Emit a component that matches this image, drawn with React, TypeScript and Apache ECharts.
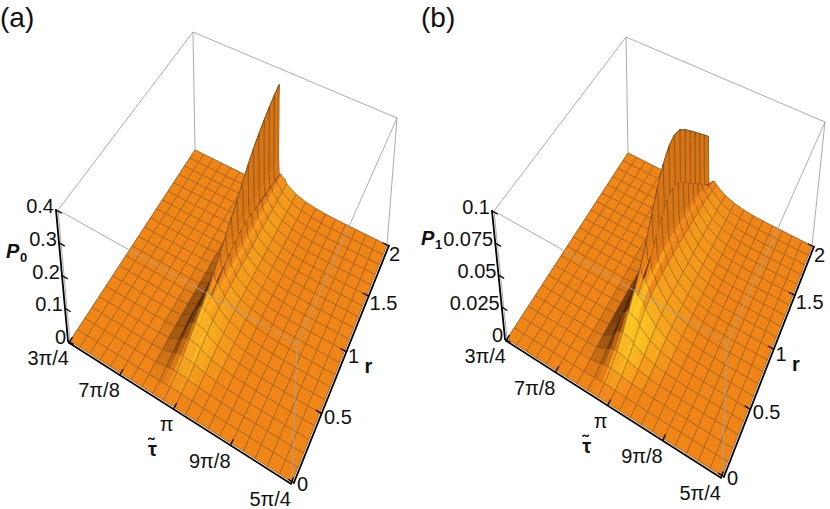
import React, { useEffect, useRef } from 'react';
import * as echarts from 'echarts';

// ---------------- data ----------------
// tau grid in units of pi
const tauGrid = [0.75, 0.775, 0.8, 0.825, 0.85, 0.875, 0.9, 0.925, 0.95, 0.96, 0.97, 0.975, 0.9775, 0.98, 0.985, 0.9875, 0.99, 0.995, 1.0, 1.0125, 1.025, 1.05, 1.075, 1.1, 1.125, 1.15, 1.175, 1.2, 1.225, 1.25];
const rGrid = [0, 0.1, 0.2, 0.3, 0.4, 0.5, 0.6, 0.7, 0.8, 0.9, 1.0, 1.1, 1.2, 1.3, 1.4, 1.5, 1.6, 1.7, 1.8, 1.9, 2.0];

const tauTickValues = [0.75, 0.875, 1, 1.125, 1.25];
const tauTickLabels = ['3π/4', '7π/8', 'π', '9π/8', '5π/4'];
const rTickValues = [0, 0.5, 1, 1.5, 2];
const rTickLabels = ['0', '0.5', '1', '1.5', '2'];
const p0TickValues = [0, 0.1, 0.2, 0.3, 0.4];
const p0TickLabels = ['0', '0.1', '0.2', '0.3', '0.4'];
const p1TickValues = [0, 0.025, 0.05, 0.075, 0.1];
const p1TickLabels = ['0', '0.025', '0.05', '0.075', '0.1'];

// P0(tau, r): one row per r in rGrid, one column per tau in tauGrid
const p0Values = [
  [0,0,0,0,0,0,0, 0,0,0,0,0,0,0,0,0,0,0, 0,0,0,0,0,0,0,0,0, 0,0,0],
  [0,0,0,0,0,0,0, 0,0.001,0.002,0.0025,0.0025,0.0025,0.0025,0.0024,0.0024,0.0023,0.0022, 0.0018,0.0013,0.0009,0.0004,0.0001,0,0,0,0, 0,0,0],
  [0,0,0,0,0,0,0, 0.001,0.006,0.009,0.01,0.01,0.0098,0.0096,0.0093,0.0091,0.009,0.0086, 0.007,0.0055,0.004,0.002,0.0008,0.0003,0,0,0, 0,0,0],
  [0,0,0,0,0,0,0, 0.002,0.012,0.019,0.022,0.022,0.0215,0.021,0.0205,0.02,0.0195,0.019, 0.0155,0.012,0.0085,0.004,0.0017,0.0006,0.0002,0,0, 0,0,0],
  [0,0,0,0,0,0,0, 0.003,0.018,0.03,0.036,0.037,0.036,0.035,0.034,0.0335,0.033,0.032, 0.026,0.02,0.014,0.007,0.003,0.0012,0.0004,0.0001,0, 0,0,0],
  [0,0,0,0,0,0,0, 0.004,0.022,0.04,0.05,0.052,0.05,0.049,0.048,0.047,0.046,0.044, 0.036,0.027,0.019,0.0095,0.0045,0.0018,0.0006,0.0002,0, 0,0,0],
  [0,0,0,0,0,0,0, 0.004,0.024,0.048,0.064,0.068,0.064,0.061,0.06,0.058,0.056,0.053, 0.043,0.032,0.023,0.012,0.0058,0.0024,0.0008,0.0003,0, 0,0,0],
  [0,0,0,0,0,0,0, 0.004,0.024,0.052,0.076,0.085,0.076,0.07,0.07,0.064,0.061,0.058, 0.046,0.034,0.024,0.013,0.0063,0.0026,0.0009,0.0003,0, 0,0,0],
  [0,0,0,0,0,0,0, 0.003,0.022,0.052,0.085,0.105,0.085,0.076,0.082,0.07,0.064,0.061, 0.048,0.035,0.025,0.013,0.0065,0.0027,0.0009,0.0003,0, 0,0,0],
  [0,0,0,0,0,0,0, 0.003,0.02,0.05,0.092,0.128,0.096,0.082,0.094,0.074,0.066,0.062, 0.048,0.035,0.024,0.013,0.0064,0.0026,0.0009,0.0003,0, 0,0,0],
  [0,0,0,0,0,0,0, 0.002,0.018,0.047,0.098,0.152,0.105,0.088,0.104,0.077,0.067,0.062, 0.047,0.034,0.024,0.0125,0.006,0.0025,0.0008,0.0003,0, 0,0,0],
  [0,0,0,0,0,0,0, 0.002,0.016,0.044,0.104,0.177,0.112,0.092,0.11,0.078,0.067,0.061, 0.046,0.033,0.023,0.012,0.0058,0.0024,0.0008,0.0002,0, 0,0,0],
  [0,0,0,0,0,0,0, 0.002,0.014,0.041,0.108,0.2,0.117,0.094,0.114,0.078,0.066,0.06, 0.045,0.033,0.022,0.012,0.0056,0.0023,0.0008,0.0002,0, 0,0,0],
  [0,0,0,0,0,0,0, 0.001,0.012,0.038,0.112,0.228,0.12,0.093,0.112,0.076,0.065,0.059, 0.044,0.032,0.022,0.0115,0.0054,0.0022,0.0007,0.0002,0, 0,0,0],
  [0,0,0,0,0,0,0, 0.001,0.011,0.035,0.115,0.254,0.121,0.09,0.106,0.073,0.063,0.057, 0.043,0.031,0.021,0.011,0.0052,0.0021,0.0007,0.0002,0, 0,0,0],
  [0,0,0,0,0,0,0, 0.001,0.01,0.032,0.117,0.276,0.12,0.085,0.097,0.069,0.061,0.056, 0.042,0.03,0.021,0.011,0.005,0.002,0.0007,0.0002,0, 0,0,0],
  [0,0,0,0,0,0,0, 0.001,0.009,0.03,0.118,0.295,0.118,0.08,0.088,0.066,0.059,0.054, 0.041,0.03,0.02,0.0105,0.0048,0.0019,0.0006,0.0002,0, 0,0,0],
  [0,0,0,0,0,0,0, 0.001,0.008,0.028,0.119,0.311,0.116,0.075,0.08,0.062,0.057,0.053, 0.04,0.029,0.02,0.01,0.0046,0.0018,0.0006,0.0002,0, 0,0,0],
  [0,0,0,0,0,0,0, 0.001,0.007,0.026,0.12,0.325,0.113,0.07,0.072,0.059,0.055,0.052, 0.039,0.028,0.019,0.0098,0.0044,0.0018,0.0006,0.0002,0, 0,0,0],
  [0,0,0,0,0,0,0, 0.001,0.007,0.025,0.12,0.337,0.11,0.062,0.066,0.056,0.053,0.051, 0.038,0.028,0.019,0.0095,0.0043,0.0017,0.0006,0.0002,0, 0,0,0],
  [0,0,0,0,0,0,0, 0.001,0.006,0.024,0.12,0.347,0.107,0.055,0.06,0.053,0.051,0.05, 0.037,0.027,0.018,0.0092,0.0042,0.0017,0.0005,0.0002,0, 0,0,0],
];

// P1(tau, r)
const p1Values = [
  [0,0,0,0,0,0,0, 0,0,0,0,0,0,0,0,0,0,0, 0,0,0,0,0,0,0,0,0, 0,0,0],
  [0,0,0,0,0,0,0, 0,0.0003,0.0006,0.0008,0.0008,0.0008,0.0008,0.0008,0.0008,0.0007,0.0007, 0.0005,0.0004,0.0003,0.0001,0,0,0,0,0, 0,0,0],
  [0,0,0,0,0,0,0, 0.0003,0.0018,0.0028,0.0032,0.0032,0.0031,0.003,0.003,0.0029,0.0028,0.0027, 0.0021,0.0016,0.0011,0.0005,0.0002,0.0001,0,0,0, 0,0,0],
  [0,0,0,0,0,0,0, 0.0006,0.004,0.0062,0.0072,0.0072,0.007,0.0069,0.0067,0.0066,0.0064,0.0061, 0.005,0.0038,0.0027,0.0013,0.0005,0.0002,0,0,0, 0,0,0],
  [0,0,0,0,0,0,0, 0.001,0.0065,0.011,0.0128,0.013,0.0126,0.0123,0.012,0.0118,0.0115,0.011, 0.009,0.0068,0.0047,0.0023,0.001,0.0004,0.0001,0,0, 0,0,0],
  [0,0,0,0,0,0,0, 0.0012,0.0085,0.016,0.02,0.021,0.02,0.0195,0.019,0.0186,0.018,0.0172, 0.014,0.0105,0.0073,0.0036,0.0017,0.0007,0.0002,0.0001,0, 0,0,0],
  [0,0,0,0,0,0,0, 0.0012,0.009,0.019,0.026,0.029,0.027,0.026,0.0255,0.025,0.024,0.0228, 0.0185,0.0138,0.0096,0.0048,0.0022,0.0009,0.0003,0.0001,0, 0,0,0],
  [0,0,0,0,0,0,0, 0.001,0.009,0.021,0.032,0.038,0.033,0.03,0.031,0.028,0.027,0.0255, 0.0205,0.0152,0.0105,0.0053,0.0025,0.001,0.0003,0.0001,0, 0,0,0],
  [0,0,0,0,0,0,0, 0.001,0.008,0.021,0.036,0.05,0.039,0.034,0.038,0.031,0.028,0.0265, 0.0213,0.0158,0.011,0.0055,0.0026,0.0011,0.0004,0.0001,0, 0,0,0],
  [0,0,0,0,0,0,0, 0.001,0.007,0.02,0.039,0.064,0.045,0.038,0.047,0.034,0.029,0.027, 0.0214,0.0158,0.011,0.0055,0.0026,0.0011,0.0004,0.0001,0, 0,0,0],
  [0,0,0,0,0,0,0, 0.0008,0.006,0.019,0.041,0.077,0.05,0.041,0.055,0.036,0.03,0.027, 0.0212,0.0155,0.0107,0.0054,0.0025,0.001,0.0003,0.0001,0, 0,0,0],
  [0,0,0,0,0,0,0, 0.0007,0.0055,0.018,0.043,0.088,0.054,0.043,0.061,0.037,0.03,0.0265, 0.0208,0.0152,0.0104,0.0052,0.0024,0.001,0.0003,0.0001,0, 0,0,0],
  [0,0,0,0,0,0,0, 0.0006,0.005,0.017,0.044,0.095,0.056,0.043,0.063,0.037,0.029,0.026, 0.0204,0.0148,0.0101,0.005,0.0023,0.0009,0.0003,0.0001,0, 0,0,0],
  [0,0,0,0,0,0,0, 0.0005,0.0045,0.016,0.044,0.097,0.056,0.041,0.06,0.035,0.028,0.025, 0.0196,0.0143,0.0097,0.0048,0.0022,0.0009,0.0003,0.0001,0, 0,0,0],
  [0,0,0,0,0,0,0, 0.0005,0.004,0.015,0.043,0.094,0.054,0.037,0.053,0.032,0.026,0.0235, 0.0185,0.0135,0.0092,0.0046,0.0021,0.0009,0.0003,0.0001,0, 0,0,0],
  [0,0,0,0,0,0,0, 0.0004,0.0037,0.014,0.041,0.087,0.05,0.032,0.045,0.028,0.024,0.022, 0.0175,0.0127,0.0087,0.0043,0.002,0.0008,0.0003,0.0001,0, 0,0,0],
  [0,0,0,0,0,0,0, 0.0004,0.0034,0.013,0.038,0.079,0.045,0.027,0.037,0.025,0.022,0.0205, 0.0163,0.012,0.0082,0.0041,0.0019,0.0008,0.0003,0.0001,0, 0,0,0],
  [0,0,0,0,0,0,0, 0.0004,0.003,0.012,0.035,0.071,0.04,0.022,0.03,0.021,0.02,0.019, 0.0153,0.0112,0.0077,0.0038,0.0018,0.0007,0.0002,0.0001,0, 0,0,0],
  [0,0,0,0,0,0,0, 0.0003,0.0028,0.011,0.032,0.063,0.035,0.018,0.022,0.018,0.0175,0.0172, 0.014,0.0103,0.0071,0.0035,0.0016,0.0007,0.0002,0.0001,0, 0,0,0],
  [0,0,0,0,0,0,0, 0.0003,0.0025,0.01,0.029,0.055,0.03,0.013,0.015,0.0145,0.0148,0.015, 0.0126,0.0094,0.0065,0.0032,0.0015,0.0006,0.0002,0.0001,0, 0,0,0],
  [0,0,0,0,0,0,0, 0.0003,0.0022,0.009,0.025,0.047,0.023,0.008,0.0095,0.011,0.012,0.0125, 0.0106,0.0079,0.0055,0.0027,0.0013,0.0005,0.0002,0.0001,0, 0,0,0],
];

// ---------------- layout / styling ----------------
const FONT = '"Liberation Sans", Arial, Helvetica, sans-serif';
const TICK_FONT = '20px ' + FONT;

type Pt = number[];

function makeHomography(q: Pt[]) {
  const [p0, p1, p2, p3] = q; // (0,0) (1,0) (1,1) (0,1)
  const dx1 = p1[0] - p2[0], dx2 = p3[0] - p2[0], dx3 = p0[0] - p1[0] + p2[0] - p3[0];
  const dy1 = p1[1] - p2[1], dy2 = p3[1] - p2[1], dy3 = p0[1] - p1[1] + p2[1] - p3[1];
  const den = dx1 * dy2 - dx2 * dy1;
  const g = (dx3 * dy2 - dx2 * dy3) / den;
  const h = (dx1 * dy3 - dx3 * dy1) / den;
  const a = p1[0] - p0[0] + g * p1[0], b = p3[0] - p0[0] + h * p3[0], c = p0[0];
  const d = p1[1] - p0[1] + g * p1[1], e = p3[1] - p0[1] + h * p3[1], f = p0[1];
  return (u: number, v: number): Pt => {
    const w = g * u + h * v + 1;
    return [(a * u + b * v + c) / w, (d * u + e * v + f) / w];
  };
}

const panels = [
  {
    floor: [[70, 341], [292, 482], [387, 245], [195, 150]],
    top: [[58, 210], [297, 344], [397, 118], [193, 32]],
    zMax: 0.4, values: p0Values, zTicks: p0TickValues, zLabels: p0TickLabels,
    tag: '(a)', tagPos: [0, 17], sub: '0', namePos: [6, 251],
  },
  {
    floor: [[507, 339], [722, 476], [812, 246], [628, 153]],
    top: [[494, 211], [727, 343], [825, 122], [626, 37]],
    zMax: 0.1, values: p1Values, zTicks: p1TickValues, zLabels: p1TickLabels,
    tag: '(b)', tagPos: [421, 17], sub: '1', namePos: [421, 238],
  },
];

const ORANGE = [240, 133, 24];
const YELLOW = [255, 214, 36];
const DARK = [80, 36, 4];
const LIGHT = (() => { const l = [0.45, -0.55, 0.7]; const n = Math.hypot(l[0], l[1], l[2]); return l.map((x) => x / n); })();

function mix(a: number[], b: number[], t: number) {
  return [a[0] + (b[0] - a[0]) * t, a[1] + (b[1] - a[1]) * t, a[2] + (b[2] - a[2]) * t];
}
function rgb(c: number[]) {
  return 'rgb(' + Math.round(c[0]) + ',' + Math.round(c[1]) + ',' + Math.round(c[2]) + ')';
}
function clamp01(x: number) { return Math.max(0, Math.min(1, x)); }
function shade(nx: number, ny: number, nz: number) {
  const len = Math.hypot(nx, ny, nz);
  nx /= len; ny /= len; nz /= len;
  if (nx < -0.02) return mix(ORANGE, DARK, clamp01(-nx * 1.4));
  const b = nx * LIGHT[0] + ny * LIGHT[1] + nz * LIGHT[2];
  const b0 = LIGHT[2];
  if (b >= b0) return mix(ORANGE, YELLOW, clamp01((b - b0 - 0.03) / (1 - b0)));
  return mix(ORANGE, DARK, clamp01(((b0 - b) / (b0 + 0.05)) * 0.55));
}
function isMeshTau(t: number) {
  return Math.abs(t * 40 - Math.round(t * 40)) < 1e-6;
}

function buildSeries(panel: any) {
  const fl = makeHomography(panel.floor);
  const tp = makeHomography(panel.top);
  const boxPt = (u: number, v: number, w: number): Pt => {
    const a = fl(u, v), b = tp(u, v);
    return [a[0] + (b[0] - a[0]) * w, a[1] + (b[1] - a[1]) * w];
  };
  const toU = (t: number) => (t - 0.75) / 0.5;
  const toV = (r: number) => r / 2;
  const dataPt = (t: number, r: number, z: number) =>
    boxPt(toU(t), toV(r), Math.min(z, panel.zMax) / panel.zMax);
  const vals: number[][] = panel.values;
  const zv = (j: number, i: number) => (vals[j] && vals[j][i]) || 0;

  // cells sorted far -> near (painter's order)
  const cells: { i: number; j: number; d: number }[] = [];
  for (let j = 0; j < rGrid.length - 1; j++) {
    for (let i = 0; i < tauGrid.length - 1; i++) {
      const c = fl(toU((tauGrid[i] + tauGrid[i + 1]) / 2), toV((rGrid[j] + rGrid[j + 1]) / 2));
      cells.push({ i, j, d: c[1] });
    }
  }
  cells.sort((a, b) => a.d - b.d);

  const surface = {
    type: 'custom', coordinateSystem: 'cartesian2d', clip: false, silent: true, z: 2,
    data: cells.map((c) => [c.i, c.j]),
    renderItem: (params: any, api: any) => {
      const i = api.value(0) as number, j = api.value(1) as number;
      const t0 = tauGrid[i], t1 = tauGrid[i + 1], r0 = rGrid[j], r1 = rGrid[j + 1];
      const z00 = zv(j, i), z10 = zv(j, i + 1), z01 = zv(j + 1, i), z11 = zv(j + 1, i + 1);
      const c = (t: number, r: number, z: number) => api.coord(dataPt(t, r, z));
      const p00 = c(t0, r0, z00), p10 = c(t1, r0, z10), p11 = c(t1, r1, z11), p01 = c(t0, r1, z01);
      const du = toU(t1) - toU(t0), dv = toV(r1) - toV(r0);
      const k = 0.4 / panel.zMax;
      const zc = (z: number) => Math.min(z, panel.zMax);
      const gx = (k * ((zc(z10) - zc(z00)) + (zc(z11) - zc(z01)))) / 2 / du;
      const gy = (k * ((zc(z01) - zc(z00)) + (zc(z11) - zc(z10)))) / 2 / dv;
      const col = shade(-gx, -gy, 1);
      const fill = rgb(col);
      const lc = rgb(mix(col, [55, 45, 40], 0.55));
      const seg = (a: Pt, b: Pt) => ({
        type: 'line', silent: true,
        shape: { x1: a[0], y1: a[1], x2: b[0], y2: b[1] },
        style: { stroke: lc, lineWidth: 0.6 },
      });
      const children: any[] = [
        { type: 'polygon', silent: true, shape: { points: [p00, p10, p11, p01] }, style: { fill, stroke: fill, lineWidth: 0.6 } },
        seg(p00, p10),
        seg(p01, p11),
      ];
      if (isMeshTau(t0)) children.push(seg(p00, p01));
      if (isMeshTau(t1)) children.push(seg(p10, p11));
      return { type: 'group', children };
    },
  };

  const grey = '#a3a3a3';
  const edge = (api: any, a: number[], b: number[], stroke = grey, lw = 0.9) => {
    const p = api.coord(boxPt(a[0], a[1], a[2]));
    const q = api.coord(boxPt(b[0], b[1], b[2]));
    return { type: 'line', silent: true, shape: { x1: p[0], y1: p[1], x2: q[0], y2: q[1] }, style: { stroke, lineWidth: lw } };
  };

  const back = {
    type: 'custom', coordinateSystem: 'cartesian2d', clip: false, silent: true, z: 1,
    data: [[0, 0]],
    renderItem: (params: any, api: any) => ({
      type: 'group',
      children: [
        edge(api, [0, 1, 1], [0, 1, 0]),
        edge(api, [0, 1, 0], [0, 0, 0]),
        edge(api, [0, 1, 0], [1, 1, 0]),
        edge(api, [0, 1, 1], [0, 0, 1]),
        edge(api, [0, 1, 1], [1, 1, 1]),
        edge(api, [1, 1, 1], [1, 1, 0]),
      ],
    }),
  };

  const text = (x: number, y: number, s: string, align: string, vAlign: string, font: string) => ({
    type: 'text', silent: true,
    style: { x, y, text: s, fill: '#111', font, textAlign: align, textVerticalAlign: vAlign, align, verticalAlign: vAlign },
  });

  const front = {
    type: 'custom', coordinateSystem: 'cartesian2d', clip: false, silent: true, z: 3,
    data: [[0, 0]],
    renderItem: (params: any, api: any) => {
      const ch: any[] = [
        edge(api, [0, 0, 1], [1, 0, 1]),
        edge(api, [1, 0, 1], [1, 1, 1]),
        edge(api, [1, 0, 1], [1, 0, 0]),
        edge(api, [0, 0, 1], [0, 0, 0]),
      ];
      const P = (u: number, v: number, w: number) => api.coord(boxPt(u, v, w)) as Pt;
      const unit = (a: Pt, b: Pt) => { const dx = b[0] - a[0], dy = b[1] - a[1]; const n = Math.hypot(dx, dy) || 1; return [dx / n, dy / n]; };
      const line = (a: Pt, b: Pt, lw: number) => ({ type: 'line', silent: true, shape: { x1: a[0], y1: a[1], x2: b[0], y2: b[1] }, style: { stroke: '#000', lineWidth: lw, lineCap: 'square' } });
      const shift = (a: Pt, d: Pt, s: number): Pt => [a[0] + d[0] * s, a[1] + d[1] * s];

      // tau axis (front-left bottom edge)
      const tauOut = (() => { const d = unit(P(0, 0, 0), P(1, 0, 0)); return [d[1], -d[0]][1] > 0 ? [d[1], -d[0]] : [-d[1], d[0]]; })();
      ch.push(line(shift(P(0, 0, 0), tauOut, 2), shift(P(1, 0, 0), tauOut, 2), 1.8));
      tauTickValues.forEach((t, k) => {
        const u = toU(t);
        const a = shift(P(u, 0, 0), tauOut, 2);
        const dir = unit(P(u, 0, 0), P(u, 0.05, 0));
        ch.push(line(a, shift(a, dir, 6), 1.3));
        const b = P(u, 0, 0);
        ch.push(text(b[0] - 1, b[1] + 17, tauTickLabels[k], 'right', 'middle', TICK_FONT));
        if (t === 1) ch.push(text(b[0] - 22, b[1] + 42, 'τ\u0303', 'center', 'middle', 'bold 20px ' + FONT));
      });

      // r axis (front-right bottom edge)
      const rOut = (() => { const d = unit(P(1, 0, 0), P(1, 1, 0)); return [d[1], -d[0]][0] > 0 ? [d[1], -d[0]] : [-d[1], d[0]]; })();
      ch.push(line(shift(P(1, 0, 0), rOut, 2), shift(P(1, 1, 0), rOut, 2), 1.8));
      rTickValues.forEach((r, k) => {
        const v = toV(r);
        const a = shift(P(1, v, 0), rOut, 2);
        const dir = unit(P(1, v, 0), P(0.95, v, 0));
        ch.push(line(a, shift(a, dir, 6), 1.3));
        const b = P(1, v, 0);
        ch.push(text(b[0] + 5 - 3 * v, b[1] + 2 + 7 * v, rTickLabels[k], 'left', 'middle', TICK_FONT));
        if (r === 1) ch.push(text(b[0] + 24, b[1] + 15, 'r', 'center', 'middle', 'bold 20px ' + FONT));
      });

      // z axis (left vertical edge)
      const zOut = [-1, 0];
      ch.push(line(shift(P(0, 0, 0), zOut, 2), shift(P(0, 0, 1), zOut, 2), 1.8));
      (panel.zTicks as number[]).forEach((z, k) => {
        const w = z / panel.zMax;
        const a = shift(P(0, 0, w), zOut, 2);
        const dir = unit(P(0, 0, w), P(0.05, 0, w));
        ch.push(line(a, shift(a, dir, 6), 1.3));
        const b = P(0, 0, w);
        ch.push(text(b[0] - 4, b[1] - 4, panel.zLabels[k], 'right', 'middle', TICK_FONT));
      });

      ch.push(text(panel.namePos[0], panel.namePos[1], 'P', 'left', 'middle', 'italic bold 20px ' + FONT));
      ch.push(text(panel.namePos[0] + 14, panel.namePos[1] + 6, panel.sub, 'left', 'middle', 'bold 13px ' + FONT));
      ch.push(text(panel.tagPos[0], panel.tagPos[1], panel.tag, 'left', 'middle', '28px ' + FONT));
      return { type: 'group', children: ch };
    },
  };

  return [back, surface, front];
}

export default function App() {
  const ref = useRef<HTMLDivElement>(null);
  useEffect(() => {
    document.body.style.margin = '0';
    if (!ref.current) return;
    const chart = echarts.init(ref.current, undefined, { renderer: 'svg' });
    const series: any[] = [];
    panels.forEach((p) => series.push(...buildSeries(p)));
    chart.setOption({
      animation: false,
      grid: { left: 0, right: 0, top: 0, bottom: 0 },
      xAxis: { type: 'value', min: 0, max: 830, show: false },
      yAxis: { type: 'value', min: 0, max: 509, inverse: true, show: false },
      series,
    });
    return () => chart.dispose();
  }, []);
  return <div ref={ref} style={{ width: 830, height: 509, background: '#fff' }} />;
}
